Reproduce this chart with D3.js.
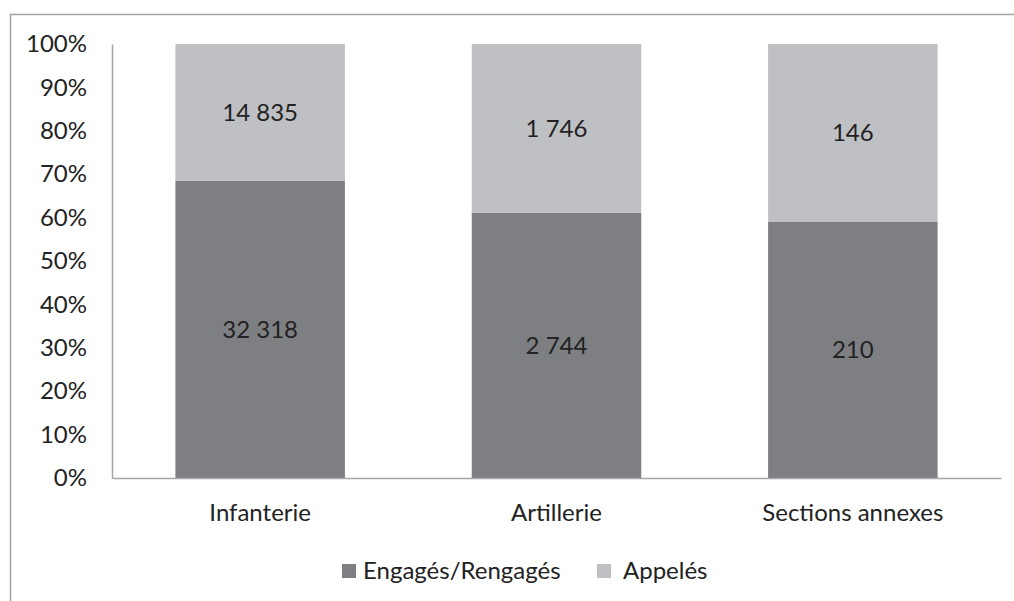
<!DOCTYPE html>
<html lang="fr">
<head>
<meta charset="UTF-8">
<title>Engagés / Appelés</title>
<script src="https://d3js.org/d3.v7.min.js"></script>
<style>
    body { margin: 0; background: #fff; }
    svg text { font-family: Lato, "Open Sans", sans-serif; fill: #222; }
    .axis path { stroke: #a6a6a6; stroke-width: 1.5px; }
    .axis text { font-size: 24px; }
</style>
</head>
<body>
<svg width="1014" height="601"></svg>
<script>
    // data
    const categories = ["Infanterie", "Artillerie", "Sections annexes"];
    const engages = [32318, 2744, 210];
    const appeles = [14835, 1746, 146];
    const seriesNames = ["Engagés/Rengagés", "Appelés"];
    const yTicks = [0, 0.1, 0.2, 0.3, 0.4, 0.5, 0.6, 0.7, 0.8, 0.9, 1];

    const colors = ["#7e7f83", "#bfc0c3"];

    const svg = d3.select("svg");
    const margin = {left: 112, right: 13, top: 44, bottom: 123};
    const W = 1014, H = 601;

    // outer frame (only top and left edges show)
    svg.append("path")
        .attr("d", "M10.5,601 V14.5 H1014")
        .attr("fill", "none")
        .attr("stroke", "#a3a3a3")
        .attr("stroke-width", 1.5);

    const x = d3.scaleBand()
        .domain(categories)
        .range([margin.left, W - margin.right])
        .paddingInner(0.428)
        .paddingOuter(0.214);

    const y = d3.scaleLinear()
        .domain([0, 1])
        .range([H - margin.bottom, margin.top]);

    const table = categories.map(function (c, i) {
        return {cat: c, engages: engages[i], appeles: appeles[i]};
    });

    const stack = d3.stack()
        .keys(["engages", "appeles"])
        .offset(d3.stackOffsetExpand);
    const layers = stack(table);

    const fr = d3.formatLocale({decimal: ",", thousands: " ", grouping: [3], currency: ["", " €"]});
    const fmt = fr.format(",");

    // bars
    const g = svg.append("g");
    layers.forEach(function (layer, k) {
        g.selectAll(".bar" + k)
            .data(layer)
            .enter()
            .append("rect")
            .attr("x", d => x(d.data.cat))
            .attr("width", x.bandwidth())
            .attr("y", d => y(d[1]))
            .attr("height", d => y(d[0]) - y(d[1]))
            .attr("fill", colors[k]);

        g.selectAll(".lab" + k)
            .data(layer)
            .enter()
            .append("text")
            .attr("x", d => x(d.data.cat) + x.bandwidth() / 2)
            .attr("y", d => y((d[0] + d[1]) / 2))
            .attr("dy", "0.35em")
            .attr("text-anchor", "middle")
            .attr("font-size", "24px")
            .text(d => fmt(d.data[layer.key]));
    });

    // axes
    svg.append("g")
        .attr("class", "axis")
        .attr("transform", "translate(" + margin.left + ",0)")
        .call(d3.axisLeft(y).tickValues(yTicks).tickFormat(d3.format(".0%")).tickSizeOuter(0).tickSizeInner(0).tickPadding(25))
        .call(s => s.selectAll(".tick line").remove());

    svg.append("g")
        .attr("class", "axis")
        .attr("transform", "translate(0," + (H - margin.bottom) + ")")
        .call(d3.axisBottom(x).tickSizeOuter(0).tickSizeInner(0))
        .call(s => s.selectAll(".tick line").remove())
        .call(s => s.selectAll(".tick text").attr("y", 35).attr("dy", "0.35em"));

    svg.selectAll(".axis text").attr("fill", "#222").style("fill", "#222");

    // legend
    const legX = [342, 597];
    const leg = svg.append("g").attr("transform", "translate(0,571)");
    seriesNames.forEach(function (name, k) {
        leg.append("rect")
            .attr("x", legX[k])
            .attr("y", -7)
            .attr("width", 14)
            .attr("height", 14)
            .attr("fill", colors[k]);
        leg.append("text")
            .attr("x", legX[k] + (k === 0 ? 21 : 26))
            .attr("y", 0)
            .attr("dy", "0.35em")
            .attr("font-size", "24px")
            .text(name);
    });
</script>
</body>
</html>
